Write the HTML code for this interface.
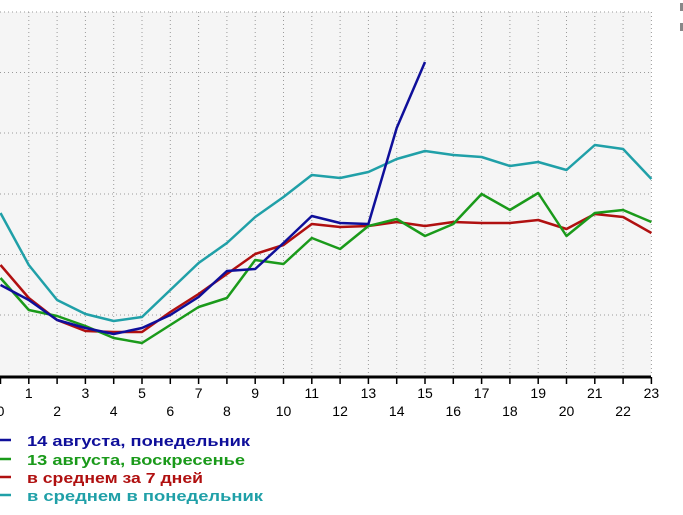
<!DOCTYPE html>
<html><head><meta charset="utf-8"><style>
body{margin:0;background:#fff;width:683px;height:515px;overflow:hidden}
svg{display:block}
text{font-family:"Liberation Sans",sans-serif}
</style></head><body>
<svg id="s" width="683" height="515" xmlns="http://www.w3.org/2000/svg">
<rect x="0" y="12" width="651" height="365" fill="#f5f5f5"/>
<g id="grid" stroke="#9a9a9a" stroke-width="1" stroke-dasharray="1,3"></g>
<line x1="0" y1="377" x2="651" y2="377" stroke="#000" stroke-width="3"/>
<g id="ticks" stroke="#000" stroke-width="1.5"></g>
<g id="labels" font-size="14" fill="#000" text-anchor="middle"></g>
<g id="series" fill="none" stroke-width="2.5" stroke-linejoin="round"></g>
<g font-size="15" font-weight="bold">
<line x1="0" y1="440" x2="11" y2="440" stroke="#0f0f9a" stroke-width="2.5"/>
<text x="27" y="446" fill="#0f0f9a" textLength="223" lengthAdjust="spacingAndGlyphs">14 августа, понедельник</text>
<line x1="0" y1="459" x2="11" y2="459" stroke="#1a9a1a" stroke-width="2.5"/>
<text x="27" y="465" fill="#1a9a1a" textLength="218" lengthAdjust="spacingAndGlyphs">13 августа, воскресенье</text>
<line x1="0" y1="477" x2="11" y2="477" stroke="#b01010" stroke-width="2.5"/>
<text x="27" y="483" fill="#b01010" textLength="176" lengthAdjust="spacingAndGlyphs">в среднем за 7 дней</text>
<line x1="0" y1="495" x2="11" y2="495" stroke="#20a0a8" stroke-width="2.5"/>
<text x="27" y="501" fill="#20a0a8" textLength="236" lengthAdjust="spacingAndGlyphs">в среднем в понедельник</text>
</g>
<rect x="680" y="3" width="3" height="8" fill="#888"/>
<rect x="680" y="23" width="3" height="8" fill="#888"/>
</svg>
<script>
var ns="http://www.w3.org/2000/svg";
function X(h){return 0.5+h*28.3;}
function el(p,t,a){var e=document.createElementNS(ns,t);for(var k in a)e.setAttribute(k,a[k]);document.getElementById(p).appendChild(e);return e;}
[12,72.5,133,194,254.5,315].forEach(function(y){el("grid","line",{x1:0,y1:y,x2:651,y2:y});});
for(var h=1;h<=23;h++){el("grid","line",{x1:X(h),y1:12,x2:X(h),y2:376});}
for(var h=0;h<=23;h++){el("ticks","line",{x1:X(h),y1:377,x2:X(h),y2:384});
var t=el("labels","text",{x:X(h),y:(h%2?398:416)});t.textContent=h;}
var S=[
["#20a0a8",[213,265,300,314,321,317,290,263,243,217,197,175,178,172,159,151,155,157,166,162,170,145,149,179]],
["#b01010",[265,298,320,331,332,332,312,294,274,254,245,224,227,226,222,226,222,223,223,220,229,214,217,233]],
["#1a9a1a",[278,310,316,326,338,343,325,307,298,260,264,238,249,226,219,236,224,194,210,193,236,213,210,222]],
["#0f0f9a",[285,300,320,328,334,328,315,297,271,269,243,216,223,224,128,62]]];
S.forEach(function(s){el("series","polyline",{stroke:s[0],points:s[1].map(function(y,i){return X(i)+","+y;}).join(" ")});});
</script>
</body></html>
